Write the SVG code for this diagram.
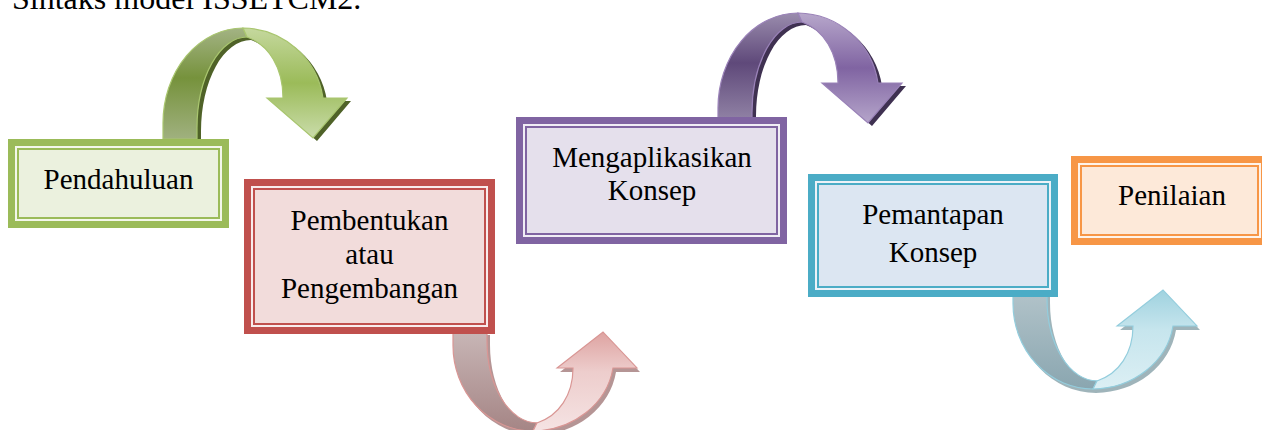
<svg xmlns="http://www.w3.org/2000/svg" width="1262" height="430" viewBox="0 0 1262 430">
<style>
text{font-family:"Liberation Serif","Times New Roman",serif;fill:#000;}
.lbl{font-size:29px;text-anchor:middle;}
.ttl{font-size:32px;}
</style>
<defs>
<path id="aAll" d="M0,111 L0,95 A80,95 0 0 1 80,0 A82,82 0 0 1 160,70 L184,70 L150,110 L104,70 L120,70 C120,40 106,17 84,9 A50,91 0 0 0 34,100 L34,111 Z"/>
<path id="aL" d="M0,111 L0,95 A80,95 0 0 1 80,0 L84,9 A50,91 0 0 0 34,100 L34,111 Z"/>
<path id="aR" d="M80,0 A82,82 0 0 1 160,70 L184,70 L150,110 L104,70 L120,70 C120,40 106,17 84,9 Z"/>
<linearGradient id="gL" x1="0" y1="0" x2="0" y2="1"><stop offset="0" stop-color="#A3B384"/><stop offset="0.45" stop-color="#76923C"/><stop offset="1" stop-color="#A0B17F"/></linearGradient>
<linearGradient id="gR" x1="0" y1="0" x2="0" y2="1"><stop offset="0" stop-color="#C5D89E"/><stop offset="0.5" stop-color="#9BBB59"/><stop offset="1" stop-color="#CADCAA"/></linearGradient>
<linearGradient id="pL" x1="0" y1="0" x2="0" y2="1"><stop offset="0" stop-color="#9A8CAD"/><stop offset="0.45" stop-color="#5F497A"/><stop offset="1" stop-color="#9486A8"/></linearGradient>
<linearGradient id="pR" x1="0" y1="0" x2="0" y2="1"><stop offset="0" stop-color="#B7A7CB"/><stop offset="0.5" stop-color="#8064A2"/><stop offset="1" stop-color="#B5A5CA"/></linearGradient>
<linearGradient id="rL" x1="0" y1="0" x2="0" y2="1"><stop offset="0" stop-color="#A58585"/><stop offset="1" stop-color="#C8B6B6"/></linearGradient>
<linearGradient id="rR" x1="0" y1="0" x2="0" y2="1"><stop offset="0" stop-color="#F5E3E3"/><stop offset="0.6" stop-color="#EDCDCC"/><stop offset="1" stop-color="#DEA3A1"/></linearGradient>
<linearGradient id="tL" x1="0" y1="0" x2="0" y2="1"><stop offset="0" stop-color="#8AA6B0"/><stop offset="1" stop-color="#B3C4CA"/></linearGradient>
<linearGradient id="tR" x1="0" y1="0" x2="0" y2="1"><stop offset="0" stop-color="#DCEFF4"/><stop offset="0.6" stop-color="#C6E5ED"/><stop offset="1" stop-color="#9FD2DF"/></linearGradient>
</defs>

<text class="ttl" x="12" y="9">Sintaks model ISSETCM2.</text>

<g id="connectors">
  <g id="arrow-green">
    <use href="#aAll" transform="translate(167,31)" fill="#4F6228"/>
    <use href="#aL" transform="translate(163,28)" fill="url(#gL)" stroke="#A9C66F" stroke-width="1.2"/>
    <use href="#aR" transform="translate(163,28)" fill="url(#gR)" stroke="#A9C66F" stroke-width="1.2"/>
  </g>
  <g id="arrow-purple">
    <use href="#aAll" transform="translate(722,16)" fill="#3F3151"/>
    <use href="#aL" transform="translate(718,13)" fill="url(#pL)" stroke="#9A82B8" stroke-width="1.2"/>
    <use href="#aR" transform="translate(718,13)" fill="url(#pR)" stroke="#9A82B8" stroke-width="1.2"/>
  </g>
  <g id="arrow-red">
    <use href="#aAll" transform="translate(456,435) scale(1,-0.9)" fill="#A88282" opacity="0.85"/>
    <use href="#aL" transform="translate(453,431) scale(1,-0.9)" fill="url(#rL)" stroke="#D99694" stroke-width="1.2"/>
    <use href="#aR" transform="translate(453,431) scale(1,-0.9)" fill="url(#rR)" stroke="#D99694" stroke-width="1.2"/>
  </g>
  <g id="arrow-teal">
    <use href="#aAll" transform="translate(1016,393) scale(1,-0.9)" fill="#8EA7AE" opacity="0.85"/>
    <use href="#aL" transform="translate(1013,389) scale(1,-0.9)" fill="url(#tL)" stroke="#93CDDD" stroke-width="1.2"/>
    <use href="#aR" transform="translate(1013,389) scale(1,-0.9)" fill="url(#tR)" stroke="#93CDDD" stroke-width="1.2"/>
  </g>
</g>

<g id="node-pendahuluan">
  <rect x="8" y="139" width="221" height="89" fill="#9BBB59"/>
  <rect x="15" y="146" width="207" height="75" fill="#F3F7EA"/>
  <rect x="18" y="149" width="201" height="69" fill="#EBF1DE" stroke="#9BBB59" stroke-width="2"/>
  <text class="lbl" x="118.5" y="189">Pendahuluan</text>
</g>

<g id="node-pembentukan">
  <rect x="244" y="179" width="251" height="155" fill="#C0504D"/>
  <rect x="251" y="186" width="237" height="141" fill="#F8ECEC"/>
  <rect x="254" y="189" width="231" height="135" fill="#F2DCDB" stroke="#C0504D" stroke-width="2"/>
  <text class="lbl" x="369.5" y="230">Pembentukan</text>
  <text class="lbl" x="369.5" y="264">atau</text>
  <text class="lbl" x="369.5" y="298">Pengembangan</text>
</g>

<g id="node-mengaplikasikan">
  <rect x="516" y="117" width="271" height="127" fill="#8064A2"/>
  <rect x="523" y="124" width="257" height="113" fill="#F0EDF5"/>
  <rect x="526" y="127" width="251" height="107" fill="#E5E0EC" stroke="#8064A2" stroke-width="2"/>
  <text class="lbl" x="652" y="167">Mengaplikasikan</text>
  <text class="lbl" x="652" y="200">Konsep</text>
</g>

<g id="node-pemantapan">
  <rect x="808" y="174" width="250" height="123" fill="#4BACC6"/>
  <rect x="815" y="181" width="236" height="109" fill="#EDF2F8"/>
  <rect x="818" y="184" width="230" height="103" fill="#DCE6F2" stroke="#4BACC6" stroke-width="2"/>
  <text class="lbl" x="933" y="224">Pemantapan</text>
  <text class="lbl" x="933" y="262">Konsep</text>
</g>

<g id="node-penilaian">
  <rect x="1071" y="156" width="197" height="89" fill="#F79646"/>
  <rect x="1078" y="163" width="183" height="75" fill="#FEF3EA"/>
  <rect x="1081" y="166" width="177" height="69" fill="#FDE9D9" stroke="#F79646" stroke-width="2"/>
  <text class="lbl" x="1172" y="205">Penilaian</text>
</g>
</svg>
